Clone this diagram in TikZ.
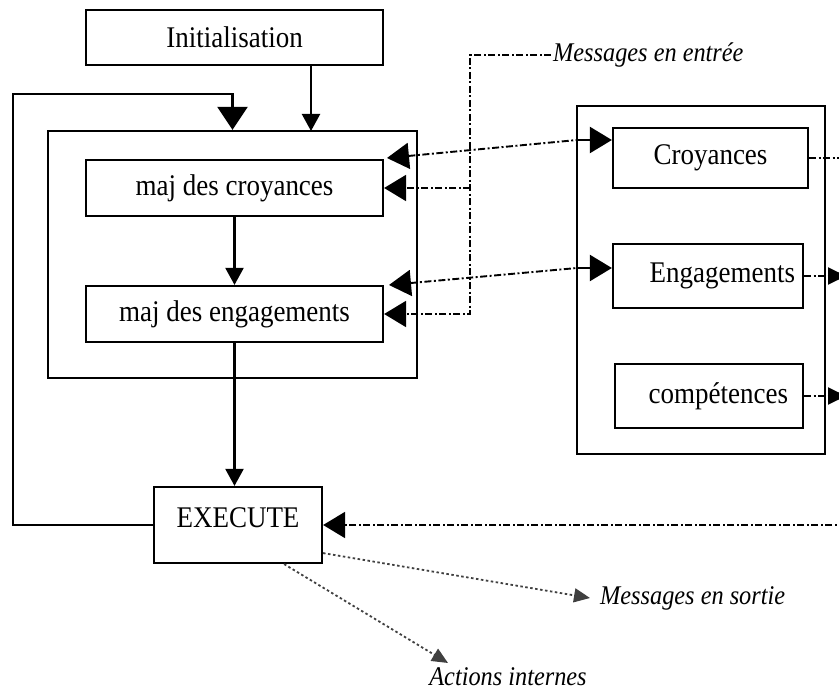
\documentclass[tikz,border=0pt]{standalone}
\usepackage{fontspec}
\setmainfont[FakeStretch=0.9]{Liberation Serif}
\usetikzlibrary{arrows.meta}
\begin{document}
\begin{tikzpicture}[x=1pt,y=-1pt,
  box/.style={draw, line width=2.2pt, rectangle, inner sep=0pt,
    font=\fontsize{30}{34}\selectfont},
  lbl/.style={font=\fontsize{27}{30}\selectfont\itshape, inner sep=2pt},
  conn/.style={line width=2.2pt},
  dd/.style={line width=1.9pt, dash pattern=on 7pt off 2.5pt on 2pt off 2.5pt},
  dots/.style={line width=1.8pt, black!75, dash pattern=on 2.5pt off 2.5pt},
  tipBig/.style={-{Triangle[length=23pt,width=30pt]}},
  tipMid/.style={-{Triangle[length=17pt,width=18pt]}},
  tipSide/.style={-{Triangle[length=22pt,width=26pt]}},
  tipSideRev/.style={{Triangle[length=22pt,width=26pt]}-},
  tipRight/.style={-{Triangle[length=18pt,width=17pt]}},
  tipSmall/.style={-{Triangle[length=16pt,width=14pt]}}]
\useasboundingbox (0,0) rectangle (839,693);

% control loop
\node[box, minimum width=297pt, minimum height=55pt] (init) at (234.5,37.5) {Initialisation};
\node[box, minimum width=369pt, minimum height=247pt] (outer) at (232.5,254.5) {};
\node[box, minimum width=297pt, minimum height=56pt] (majc) at (234.5,188) {maj des croyances};
\node[box, minimum width=297pt, minimum height=56pt] (maje) at (234.5,314) {maj des engagements};
\node[box, minimum width=168pt, minimum height=76pt, text depth=14pt] (exec) at (238,525) {EXECUTE};

% mental state
\node[box, minimum width=248pt, minimum height=348pt] (store) at (701,280) {};
\node[box, minimum width=195pt, minimum height=60pt] (croy) at (710.5,158) {Croyances};
\node[box, text width=174pt, align=right, inner xsep=8pt, minimum height=64pt] (enga) at (708,276) {Engagements};
\node[box, text width=158pt, align=right, inner xsep=15pt, minimum height=64pt] (comp) at (709,396) {compétences};

% labels
\node[lbl, anchor=west] (msgin) at (551,55) {Messages en entrée};
\node[lbl, anchor=west, inner xsep=10pt] (msgout) at (590,598) {Messages en sortie};
\node[lbl] (act) at (508,677) {Actions internes};

% bend points and free ends
\coordinate (loopTop) at (13,94);
\coordinate (initIn) at (311,131);
\coordinate (bus) at (470,55);
\coordinate (cL) at (387,158);
\coordinate (cR) at (577,140);
\coordinate (eL) at (389,285);
\coordinate (eR) at (577,268);
\coordinate (edge) at (846,0);
\coordinate (actTip) at (448,663);

% solid flow
\draw[conn, tipMid] (init.south -| initIn) -- (initIn);
\draw[conn, tipBig] (exec.west) -| (loopTop) -| (outer.north);
\draw[conn, tipMid] (majc.south) -- (maje.north);
\draw[conn, tipMid] (maje.south) -- (maje.south |- exec.north);

% incoming messages
\draw[dd, tipSide] (msgin.west) -- (bus) |- (maje.east);
\draw[dd, tipSide] (bus |- majc.east) -- (majc.east);

% exchanges with the mental state
\draw[dd, tipSideRev] (cL) -- (cR);
\draw[conn, tipSide] (cR) -- (croy.west |- cR);
\draw[dd, tipSideRev] (eL) -- (eR);
\draw[conn, tipSide] (eR) -- (enga.west |- eR);

% outputs of the mental state
\draw[dd] (croy.east) -- (croy.east -| edge);
\draw[dd, tipRight] (enga.east) -- (enga.east -| edge);
\draw[dd, tipRight] (comp.east) -- (comp.east -| edge);
\draw[dd, tipSide] (exec.east -| edge) -- (exec.east);

% outputs of EXECUTE
\draw[dots, tipSmall] ([yshift=11pt]exec.south east) -- (msgout.west);
\draw[dots, tipSmall] ([xshift=-39pt]exec.south east) -- (actTip);
\end{tikzpicture}
\end{document}
